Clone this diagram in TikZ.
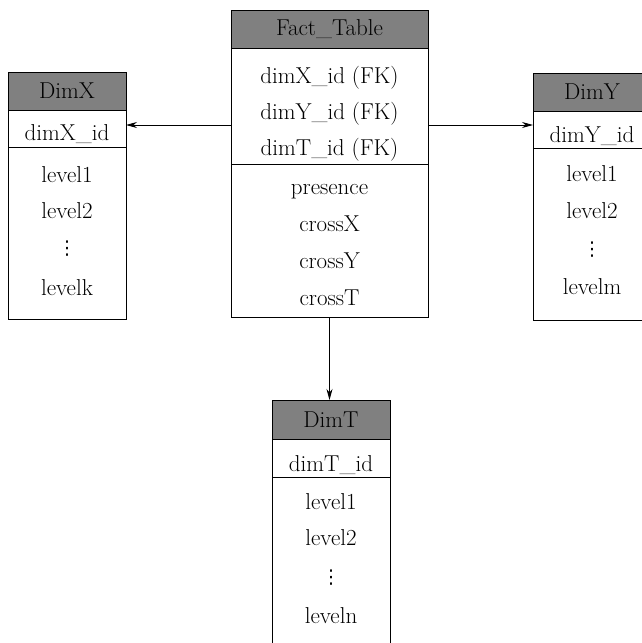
\documentclass[tikz,border=0pt]{standalone}
\usepackage{fontspec}
\newfontfamily\symfont{DejaVu Sans}
\usetikzlibrary{arrows.meta}
\newcommand{\rowfont}{\fontsize{23}{27}\selectfont}
\tikzset{
  tbl/.style={draw, line width=0.9pt, inner sep=0pt, outer sep=0pt, anchor=north west},
  hdr/.style={tbl, fill=black!50, font=\rowfont},
  rowtxt/.style={inner sep=0pt, font=\rowfont, text height=15pt, text depth=3pt},
  dotstxt/.style={inner sep=0pt, font=\symfont\fontsize{19}{22}\selectfont},
  arr/.style={line width=0.8pt, -{Stealth[length=11pt,width=6pt]}}
}
\begin{document}
\begin{tikzpicture}[x=1pt,y=-1pt]
\useasboundingbox[fill=white] (0,0) rectangle (642,643);
% Fact table
\node[hdr, minimum width=197pt, minimum height=38pt] (facth) at (231,10) {Fact\_Table};
\node[tbl, minimum width=197pt, minimum height=116pt] (factkey) at (231,48) {};
\node[tbl, minimum width=197pt, minimum height=153pt] (factattr) at (231,164) {};
\node[rowtxt] (f1) at (329.5,77) {dimX\_id (FK)};
\node[rowtxt] (f2) at (329.5,113) {dimY\_id (FK)};
\node[rowtxt] (f3) at (329.5,149) {dimT\_id (FK)};
\node[rowtxt] (f4) at (329.5,188) {presence};
\node[rowtxt] (f5) at (329.5,225) {crossX};
\node[rowtxt] (f6) at (329.5,262) {crossY};
\node[rowtxt] (f7) at (329.5,299) {crossT};
% DimX
\node[hdr, minimum width=118pt, minimum height=38pt] (dimxh) at (8,72) {DimX};
\node[tbl, minimum width=118pt, minimum height=37pt] (dimxkey) at (8,110) {};
\node[tbl, minimum width=118pt, minimum height=172pt] (dimxattr) at (8,147) {};
\node[rowtxt] (x1) at (67,134) {dimX\_id};
\node[rowtxt] (x2) at (67,176) {level1};
\node[rowtxt] (x3) at (67,212) {level2};
\node[dotstxt] (x4) at (67,249) {⋮};
\node[rowtxt] (x5) at (67,289) {levelk};
% DimY
\node[hdr, minimum width=118pt, minimum height=38pt] (dimyh) at (533,73) {DimY};
\node[tbl, minimum width=118pt, minimum height=37pt] (dimykey) at (533,111) {};
\node[tbl, minimum width=118pt, minimum height=172pt] (dimyattr) at (533,148) {};
\node[rowtxt] (y1) at (592,136) {dimY\_id};
\node[rowtxt] (y2) at (592,175) {level1};
\node[rowtxt] (y3) at (592,212) {level2};
\node[dotstxt] (y4) at (592,250) {⋮};
\node[rowtxt] (y5) at (592,288) {levelm};
% DimT
\node[hdr, minimum width=118pt, minimum height=39pt] (dimth) at (272,400) {DimT};
\node[tbl, minimum width=118pt, minimum height=38pt] (dimtkey) at (272,439) {};
\node[tbl, minimum width=118pt, minimum height=172pt] (dimtattr) at (272,477) {};
\node[rowtxt] (t1) at (331,465) {dimT\_id};
\node[rowtxt] (t2) at (331,503) {level1};
\node[rowtxt] (t3) at (331,539) {level2};
\node[dotstxt] (t4) at (331,578) {⋮};
\node[rowtxt] (t5) at (331,617) {leveln};
% connectors
\coordinate (ya) at (0,125);
\draw[arr] (factkey.west |- ya) -- (dimxkey.east |- ya);
\draw[arr] (factkey.east |- ya) -- (dimykey.west |- ya);
\draw[arr] (factattr.south) -- (factattr.south |- dimth.north);
\end{tikzpicture}
\end{document}
